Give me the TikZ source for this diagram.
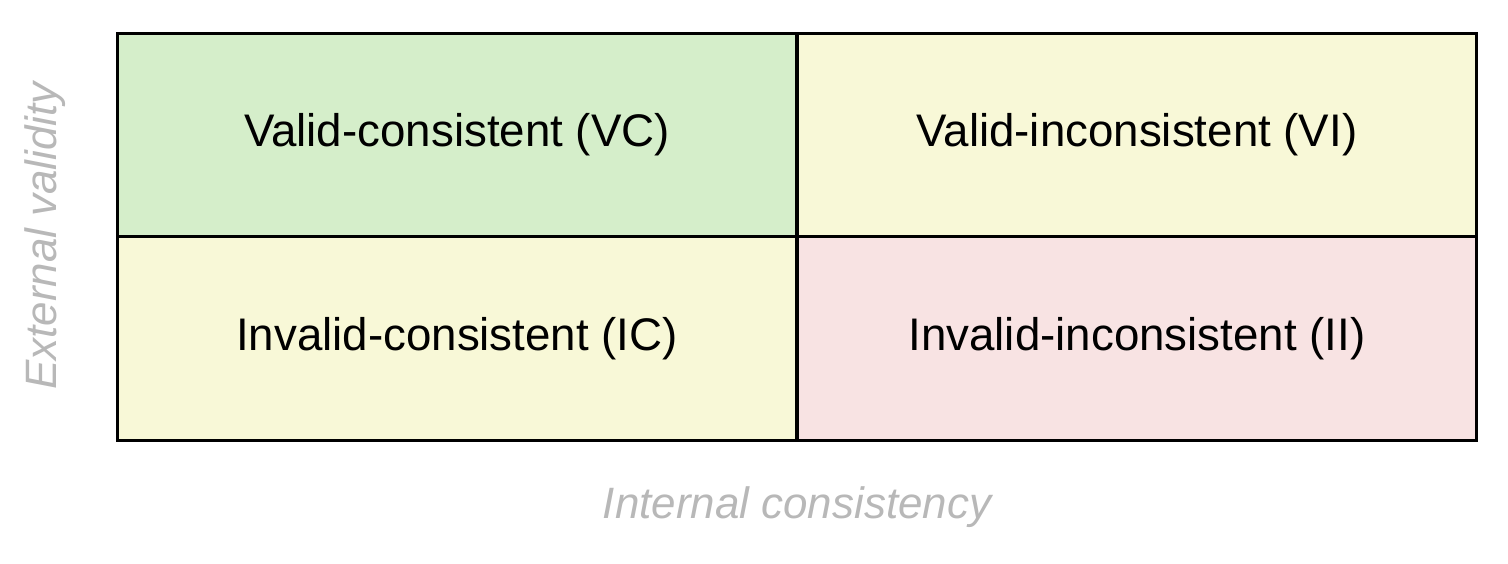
\documentclass[tikz,border=0pt]{standalone}
\usepackage{fontspec}
\setmainfont{Liberation Sans}
\definecolor{cgreen}{HTML}{D5EECA}
\definecolor{cyellow}{HTML}{F8F8D7}
\definecolor{cpink}{HTML}{F8E3E3}
\definecolor{cgray}{HTML}{B8B8B8}
\begin{document}
\begin{tikzpicture}[x=0.02cm,y=-0.02cm,
  cell/.style={draw=black,line width=1.7pt,minimum width=13.6cm,minimum height=4.07cm,inner sep=0pt,font=\fontsize{26}{30}\selectfont},
  axis/.style={text=cgray,font=\itshape\fontsize{25}{30}\selectfont}]
\useasboundingbox (0,0) rectangle (1508,564);
\node[cell,fill=cgreen] (vc) at (457,135) {Valid-consistent (VC)};
\node[cell,fill=cyellow] (vi) at (1137,135) {Valid-inconsistent (VI)};
\node[cell,fill=cyellow] (ic) at (457,338.5) {Invalid-consistent (IC)};
\node[cell,fill=cpink] (ii) at (1137,338.5) {Invalid-inconsistent (II)};
\node[axis] (ix) at (797,507) {Internal consistency};
\node[axis,rotate=90] (ev) at (45,236) {External validity};
\end{tikzpicture}
\end{document}
